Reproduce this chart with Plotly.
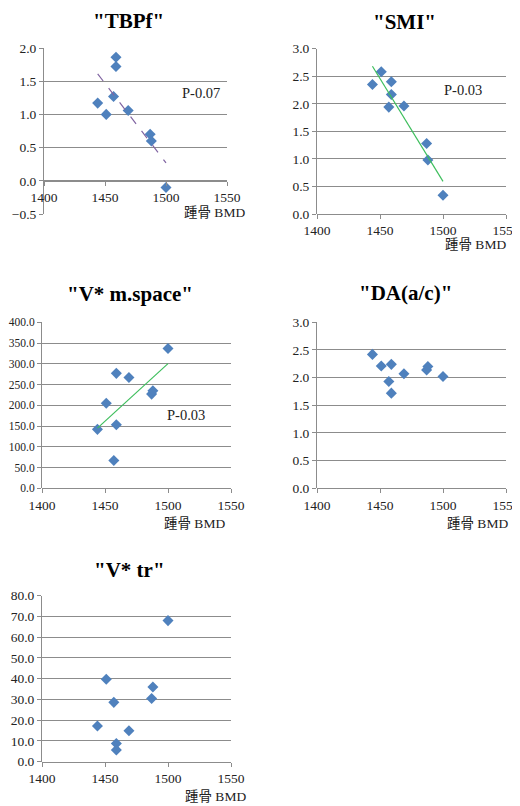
import numpy as np
import plotly.graph_objects as go

# ---------------- data ----------------
bmd = [1444, 1451, 1457, 1459, 1459, 1469, 1487, 1488, 1500]
tbpf = [1.17, 1.00, 1.27, 1.86, 1.72, 1.06, 0.70, 0.60, -0.10]
smi = [2.35, 2.58, 1.94, 2.40, 2.17, 1.96, 1.28, 0.98, 0.34]
vms = [142, 205, 67, 277, 153, 267, 227, 235, 337]
da = [2.42, 2.21, 1.93, 2.24, 1.72, 2.07, 2.14, 2.20, 2.02]
vtr = [17.2, 39.7, 28.6, 8.8, 5.6, 14.9, 30.5, 36.0, 68.0]

titles = ['"TBPf"', '"SMI"', '"V* m.space"', '"DA(a/c)"', '"V* tr"']
p_labels = ["P-0.07", "P-0.03", "P-0.03", None, None]
x_label = "踵骨 BMD"
x_ticks = [1400, 1450, 1500, 1550]
y_ranges = [(-0.5, 2.0, 0.5), (0, 3.0, 0.5), (0, 400, 50), (0, 3.0, 0.5), (0, 80, 10)]
series = [tbpf, smi, vms, da, vtr]
trend = ["dash", "solid", "solid", None, None]

# ---------------- layout helpers ----------------
# the page body has an 8px margin, so the figure starts at (8, 8) of the window
OFF = 8
W, H = 520 - OFF, 806 - OFF
def px(x):
    return (x - OFF) / W
def py(y):
    return 1 - (y - OFF) / H

# plot area boxes in window pixels: left, right, top, bottom
boxes = [
    (44, 227, 48, 214),
    (317, 506, 48.7, 214),
    (42, 231, 322.3, 488.3),
    (317, 506, 322.3, 488.3),
    (42, 231, 595.7, 761.7),
]
title_pos = [(128, 21), (404, 22), (130, 294), (405, 293), (129, 570)]
xlab_pos = [(247, 212), (508, 244), (227, 523), (510, 523), (248, 796)]
p_pos = [(222, 93), (484, 90), (207, 415)]
ytick_size = [13.5, 13.5, 11.5, 13.5, 13.5]

MARK = "#4F81BD"
GRID = "#8C8C8C"
SERIF = "Liberation Serif"
CJK = "Liberation Serif, Noto Sans CJK JP"

fig = go.Figure()
annotations = []
layout = {}

for i, (vals, box) in enumerate(zip(series, boxes)):
    n = "" if i == 0 else str(i + 1)
    xa, ya = "x" + n, "y" + n
    l, r, t, b = box
    y0, y1, dy = y_ranges[i]
    ydom = [py(b), py(t)]
    fig.add_trace(go.Scatter(
        x=bmd, y=vals, mode="markers", xaxis=xa, yaxis=ya,
        marker=dict(symbol="diamond", size=8.5, color=MARK),
        showlegend=False, hoverinfo="x+y"))
    if trend[i]:
        k, c = np.polyfit(bmd, vals, 1)
        xs = [min(bmd), max(bmd)]
        fig.add_trace(go.Scatter(
            x=xs, y=[k * v + c for v in xs], mode="lines", xaxis=xa, yaxis=ya,
            line=dict(color="#8064A2" if trend[i] == "dash" else "#3DBE5C",
                      width=1.2, dash="dash" if trend[i] == "dash" else "solid"),
            showlegend=False, hoverinfo="skip"))
    # x-axis crosses at y = 0
    pos0 = ydom[0] + (0 - y0) / (y1 - y0) * (ydom[1] - ydom[0])
    layout["xaxis" + n] = dict(
        domain=[px(l), px(r)], range=[1400, 1550], tickvals=x_ticks,
        anchor="free", position=pos0, showgrid=False, zeroline=False,
        showline=True, linecolor=GRID, linewidth=1, automargin=False,
        ticks="outside", ticklen=4, tickcolor=GRID,
        tickfont=dict(family=SERIF, size=13.5, color="#222"))
    layout["yaxis" + n] = dict(
        domain=ydom, range=[y0, y1], anchor=xa, automargin=False,
        tickvals=list(np.arange(y0, y1 + dy / 2, dy)), tickformat=".1f",
        showgrid=True, gridcolor=GRID, gridwidth=1, zeroline=False,
        showline=True, linecolor=GRID, linewidth=1,
        ticks="outside", ticklen=4, tickcolor=GRID,
        tickfont=dict(family=SERIF, size=ytick_size[i], color="#222"))
    tx, ty = title_pos[i]
    annotations.append(dict(text="<b>" + titles[i] + "</b>", x=px(tx), y=py(ty),
                            xref="paper", yref="paper", showarrow=False,
                            xanchor="center", yanchor="middle",
                            font=dict(family=SERIF, size=21, color="#000")))
    lx, ly = xlab_pos[i]
    annotations.append(dict(text=x_label, x=px(lx), y=py(ly),
                            xref="paper", yref="paper", showarrow=False,
                            xanchor="right", yanchor="middle",
                            font=dict(family=CJK, size=13.5, color="#222")))
    if p_labels[i]:
        qx, qy = p_pos[i]
        annotations.append(dict(text=p_labels[i], x=px(qx), y=py(qy),
                                xref="paper", yref="paper", showarrow=False,
                                xanchor="right", yanchor="middle",
                                font=dict(family=SERIF, size=14.5, color="#222")))

fig.update_layout(
    width=W, height=H, margin=dict(l=0, r=0, t=0, b=0),
    paper_bgcolor="white", plot_bgcolor="white",
    font=dict(family=SERIF),
    annotations=annotations, **layout)

fig.write_html("out.html")
